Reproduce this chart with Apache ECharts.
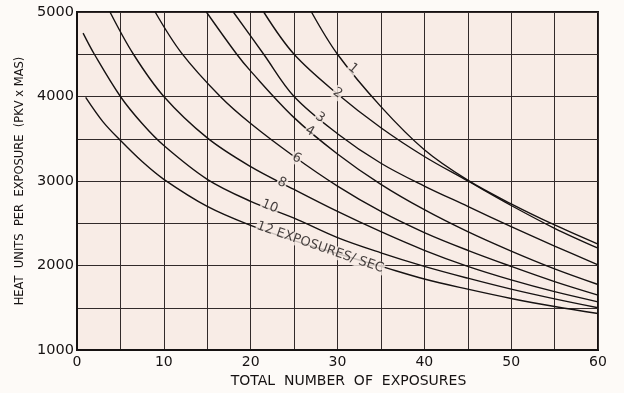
<!DOCTYPE html>
<html>
<head>
<meta charset="utf-8">
<script src="https://cdn.jsdelivr.net/npm/echarts@6/dist/echarts.min.js"></script>
<style>
  html, body { margin: 0; padding: 0; background: #fdfaf7; }
  #chart { width: 624px; height: 393px; }
</style>
</head>
<body>
<div id="chart"></div>
<script>
// Heat-unit rating curves: allowed heat units per exposure vs. total exposures,
// one curve per exposure rate (exposures per second).
const rates = ['1', '2', '3', '4', '6', '8', '10', '12'];

const curve1X  = [27, 30, 35, 40, 45, 50, 55, 60];
const curve1Y  = [5000, 4500, 3880, 3370, 3010, 2730, 2480, 2253];
const curve2X  = [21.5, 25, 30, 35, 40, 45, 50, 55, 60];
const curve2Y  = [5000, 4500, 4030, 3630, 3290, 3000, 2710, 2440, 2205];
const curve3X  = [18, 21.5, 25, 30, 35, 40, 45, 50, 55, 60];
const curve3Y  = [5000, 4500, 4000, 3560, 3210, 2940, 2700, 2460, 2230, 2008];
const curve4X  = [14.9, 18.4, 20, 25, 30, 35, 40, 45, 50, 55, 60];
const curve4Y  = [5000, 4500, 4300, 3750, 3320, 2960, 2660, 2400, 2170, 1960, 1775];
const curve6X  = [9, 12, 16.5, 20, 25, 30, 35, 40, 45, 50, 55, 60];
const curve6Y  = [5000, 4520, 4000, 3680, 3290, 2940, 2640, 2390, 2180, 1990, 1810, 1650];
const curve8X  = [3.8, 6.5, 10, 15, 20, 25, 30, 35, 40, 45, 50, 55, 60];
const curve8Y  = [5000, 4500, 4000, 3510, 3170, 2900, 2640, 2400, 2180, 1990, 1830, 1690, 1570];
const curve10X = [0.7, 2, 5, 7.5, 10, 15, 20, 25, 30, 35, 40, 45, 50, 55, 60];
const curve10Y = [4750, 4500, 4000, 3680, 3420, 3020, 2760, 2560, 2330, 2150, 1990, 1850, 1720, 1605, 1500];
const curve12X = [1, 3, 5, 7.5, 10, 15, 20, 25, 30, 35, 40, 45, 50, 55, 60];
const curve12Y = [3990, 3700, 3480, 3230, 3020, 2700, 2475, 2295, 2140, 1990, 1840, 1720, 1610, 1515, 1432];

const curveX = [curve1X, curve2X, curve3X, curve4X, curve6X, curve8X, curve10X, curve12X];
const curveY = [curve1Y, curve2Y, curve3Y, curve4Y, curve6Y, curve8Y, curve10Y, curve12Y];

// Curve captions, anchored in data space on their curves
const captionText = ['1', '2', '3', '4', '6', '8', '10', '12 EXPOSURES/ SEC'];
const captionX = [31.8, 30.0, 28.0, 26.8, 25.3, 23.6, 22.2, 28.0];
const captionY = [4330, 4040, 3750, 3590, 3270, 2980, 2700, 2215];

// Axis ticks
const xTicks = [0, 10, 20, 30, 40, 50, 60];
const yTicks = [1000, 2000, 3000, 4000, 5000];

// Caption tilt (degrees), follows the local slope of each curve
const captionAngle = [-40, -35, -35, -30, -28, -25, -22, -19];

const paper = '#f8ece6';
const ink = '#161212';
const font = 'DejaVu Sans';

const chart = echarts.init(document.getElementById('chart'), null, { renderer: 'canvas' });

const curveSeries = rates.map((r, i) => ({
  name: r,
  type: 'line',
  data: curveX[i].map((x, k) => [x, curveY[i][k]]),
  smooth: 0.35,
  symbol: 'none',
  silent: true,
  clip: true,
  lineStyle: { color: ink, width: 1.4 },
  z: 3
}));

const captionSeries = {
  type: 'scatter',
  symbolSize: 0,
  silent: true,
  z: 5,
  data: captionText.map((t, i) => ({
    value: [captionX[i], captionY[i]],
    label: {
      show: true,
      position: 'inside',
      formatter: t,
      rotate: captionAngle[i],
      color: ink,
      fontFamily: font,
      fontSize: 13,
      backgroundColor: paper,
      padding: [0, 1]
    }
  }))
};

chart.setOption({
  animation: false,
  backgroundColor: '#fdfaf7',
  grid: {
    left: 77, right: 26, top: 12, bottom: 37,
    show: true,
    backgroundColor: paper,
    borderColor: ink,
    borderWidth: 2
  },
  xAxis: {
    type: 'value',
    min: 0, max: 60, interval: 5,
    name: 'TOTAL  NUMBER  OF  EXPOSURES',
    nameLocation: 'middle',
    nameGap: 24,
    nameTextStyle: { color: ink, fontFamily: font, fontSize: 14, padding: [0, 0, 0, 22] },
    axisLine: { show: true, lineStyle: { color: ink, width: 2 } },
    axisTick: { show: false },
    axisLabel: {
      color: ink, fontFamily: font, fontSize: 14, margin: 5,
      formatter: v => (xTicks.indexOf(v) >= 0 ? String(v) : '')
    },
    splitLine: { show: true, lineStyle: { color: '#322a2a', width: 1 } }
  },
  yAxis: {
    type: 'value',
    min: 1000, max: 5000, interval: 500,
    name: 'HEAT  UNITS  PER  EXPOSURE  (PKV x MAS)',
    nameLocation: 'middle',
    nameGap: 48,
    nameRotate: 90,
    nameTextStyle: { color: ink, fontFamily: font, fontSize: 11.5 },
    axisLine: { show: true, lineStyle: { color: ink, width: 2 } },
    axisTick: { show: false },
    axisLabel: {
      color: ink, fontFamily: font, fontSize: 14.5, margin: 3,
      formatter: v => (yTicks.indexOf(v) >= 0 ? String(v) : '')
    },
    splitLine: { show: true, lineStyle: { color: '#322a2a', width: 1 } }
  },
  series: curveSeries.concat([captionSeries])
});
</script>
</body>
</html>
